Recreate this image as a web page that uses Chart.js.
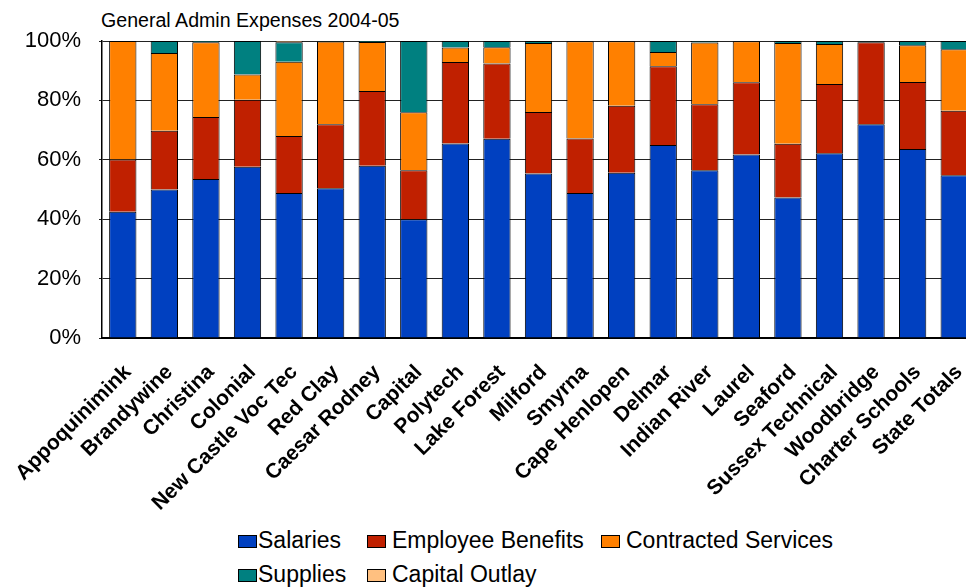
<!DOCTYPE html>
<html>
<head>
<meta charset="utf-8">
<script src="https://cdn.jsdelivr.net/npm/chart.js@4"></script>
<style>
  body { margin: 0; overflow: hidden; background: #fff; font-family: "Liberation Sans", Arial, sans-serif; }
  #wrap { position: absolute; left: 0; top: 0; width: 980px; height: 520px; }
  #title { position: absolute; left: 101px; top: 10px; font-size: 19.6px; line-height: 20px; color: #000; white-space: nowrap; }
  .lg { position: absolute; font-size: 23px; line-height: 23px; color: #000; white-space: nowrap; }
  .lg i { position: absolute; left: 0; top: 6px; width: 17px; height: 11px; border: 1px solid #000; }
  .lg span { position: absolute; top: 0; }
</style>
</head>
<body>
<div id="title">General Admin Expenses 2004-05</div>
<div id="wrap"><canvas id="chart" width="980" height="520"></canvas></div>
<div id="legend"></div>
<script>
const districts = ['Appoquinimink', 'Brandywine', 'Christina', 'Colonial', 'New Castle Voc Tec', 'Red Clay',
  'Caesar Rodney', 'Capital', 'Polytech', 'Lake Forest', 'Milford', 'Smyrna', 'Cape Henlopen', 'Delmar',
  'Indian River', 'Laurel', 'Seaford', 'Sussex Technical', 'Woodbridge', 'Charter Schools', 'State Totals'];

// percent of general admin expenses
const salaries   = [42.5, 50.0, 53.5, 57.7, 48.8, 50.4, 58.0, 40.0, 65.5, 67.1, 55.4, 48.8, 55.6, 65.0, 56.5, 61.8, 47.3, 62.2, 72.0, 63.6, 54.8];
const benefits   = [17.6, 19.8, 20.9, 22.5, 19.2, 21.6, 25.2, 16.5, 27.4, 25.3, 20.7, 18.4, 22.6, 26.5, 22.2, 24.3, 18.1, 23.3, 27.6, 22.6, 21.7];
const contracted = [39.9, 26.2, 25.2, 8.5, 25.0, 27.8, 16.5, 19.5, 4.9, 5.5, 23.2, 32.7, 21.7, 4.8, 20.8, 13.8, 33.9, 13.5, 0.2, 12.4, 20.7];
const supplies   = [0, 4.0, 0.4, 11.3, 6.6, 0.2, 0.3, 24.0, 2.2, 2.1, 0.7, 0.1, 0.1, 3.7, 0.5, 0.1, 0.7, 1.0, 0.2, 1.4, 2.8];
const capital    = [0, 0, 0, 0, 0.4, 0, 0, 0, 0, 0, 0, 0, 0, 0, 0, 0, 0, 0, 0, 0, 0];

const seriesNames = ['Salaries', 'Employee Benefits', 'Contracted Services', 'Supplies', 'Capital Outlay'];
const seriesColors = ['#0040C0', '#C02000', '#FF8000', '#008080', '#FFC080'];
const yTicks = [0, 20, 40, 60, 80, 100];

const allSeries = [salaries, benefits, contracted, supplies, capital];
const font = '"Liberation Sans", Arial, sans-serif';

const myChart = new Chart(document.getElementById('chart'), {
  type: 'bar',
  data: {
    labels: districts,
    datasets: allSeries.map((vals, i) => ({
      label: seriesNames[i],
      data: vals,
      backgroundColor: seriesColors[i],
      borderColor: '#000',
      borderWidth: 1,
      barPercentage: 0.657,
      categoryPercentage: 1.0
    }))
  },
  options: {
    responsive: false,
    animation: false,
    layout: { padding: { top: 41, right: 5, left: 0, bottom: 0 } },
    plugins: { legend: { display: false }, title: { display: false }, tooltip: { enabled: false } },
    scales: {
      x: {
        stacked: true,
        grid: { display: false, drawTicks: false },
        border: { display: true, color: '#000', width: 2 },
        ticks: {
          color: '#000',
          font: { family: font, size: 21, weight: 'bold' },
          minRotation: 45,
          maxRotation: 45,
          autoSkip: false,
          padding: 22,
          labelOffset: 5
        },
        afterFit: s => {
          s.height = 182;
          // the rotated labels may hang past the plot edges, as in the original
          s.paddingLeft = 0;
          s.paddingRight = 0;
        }
      },
      y: {
        stacked: true,
        min: 0,
        max: 100,
        afterBuildTicks: s => { s.ticks = yTicks.map(v => ({ value: v })); },
        grid: { color: '#222', lineWidth: 1, tickLength: 3 },
        border: { display: true, color: '#000', width: 1.5 },
        ticks: {
          color: '#000',
          font: { family: font, size: 22 },
          padding: 18,
          callback: v => v + '%'
        },
        afterFit: s => { s.width = 102; }
      }
    }
  }
});

// legend laid out like the original: three columns, two rows
const legendBoxX = [238, 367, 601];
const legendTextX = [258, 392, 626];
const legendRows = [528.5, 563];
const legendEl = document.getElementById('legend');
seriesNames.forEach((name, i) => {
  const c = i % 3;
  const d = document.createElement('div');
  d.className = 'lg';
  d.style.left = legendBoxX[c] + 'px';
  d.style.top = legendRows[Math.floor(i / 3)] + 'px';
  d.innerHTML = '<i style="background:' + seriesColors[i] + '"></i><span style="left:' +
    (legendTextX[c] - legendBoxX[c]) + 'px">' + name + '</span>';
  legendEl.appendChild(d);
});
</script>
</body>
</html>
